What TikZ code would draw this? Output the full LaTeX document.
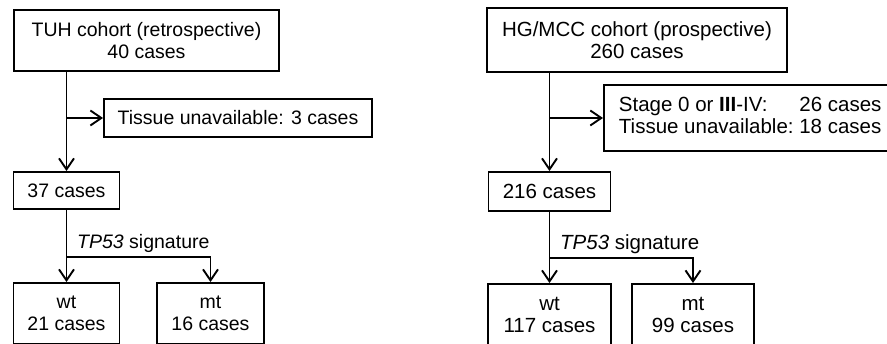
\documentclass[tikz,border=0pt]{standalone}
\usepackage{fontspec}
\setmainfont{Liberation Sans}
\usetikzlibrary{arrows.meta}
\tikzset{
  box/.style={draw, line width=1.9pt, align=center, inner sep=0pt},
  lfont/.style={font=\fontsize{19.5}{22}\selectfont},
  rfont/.style={font=\fontsize{20.5}{22}\selectfont},
  arr/.style={line width=1.9pt, -{Straight Barb[length=11pt,width=15pt,line width=1.9pt]}},
  lbl/.style={inner sep=0pt, anchor=base west}
}
\begin{document}
\begin{tikzpicture}[x=1pt,y=-1pt]
\useasboundingbox (0,0) rectangle (887,344);
\fill[white] (0,0) rectangle (887,344);
\clip (0,0) rectangle (887,344);
% left cohort
\node[box, lfont, minimum width=265pt, minimum height=61pt] (tuh) at (146.5,40.5) {TUH cohort (retrospective)\\40 cases};
\node[box, lfont, minimum width=268pt, minimum height=38pt] (tisL) at (238,118) {Tissue unavailable: 3 cases};
\node[box, lfont, minimum width=106pt, minimum height=37pt] (n37) at (66.5,190.5) {37 cases};
\node[box, lfont, minimum width=106pt, minimum height=61pt] (wtL) at (66.5,313.5) {wt\\21 cases};
\node[box, lfont, minimum width=107pt, minimum height=61pt] (mtL) at (210.5,313.5) {mt\\16 cases};
\coordinate (jL) at (67,257);
\draw[arr] (tuh.south -| n37.north) -- (n37.north);
\draw[arr] (n37.north |- tisL.west) -- (tisL.west);
\draw[arr] (n37.south) -- (wtL.north);
\draw[arr] (jL -| n37.south) -| (mtL.north);
\node[lbl, lfont] (sigL) at (77,249) {\textit{TP53} signature};
% right cohort
\node[box, rfont, minimum width=300pt, minimum height=64pt] (hg) at (637,40) {HG/MCC cohort (prospective)\\260 cases};
\node[box, rfont, anchor=west, inner xsep=15pt, minimum height=66pt] (stg) at (603,118) {\begin{tabular}{@{}l@{\ }l@{}}Stage 0 or \textbf{III}-IV: & 26 cases\\ Tissue unavailable: & 18 cases\end{tabular}};
\node[box, rfont, minimum width=122pt, minimum height=39pt] (n216) at (549.5,191.5) {216 cases};
\node[box, rfont, minimum width=123pt, minimum height=61pt] (wtR) at (549.5,314.5) {wt\\117 cases};
\node[box, rfont, minimum width=122pt, minimum height=61pt] (mtR) at (693,314.5) {mt\\99 cases};
\coordinate (jR) at (550,258);
\draw[arr] (hg.south -| n216.north) -- (n216.north);
\draw[arr] (n216.north |- stg.west) -- (stg.west);
\draw[arr] (n216.south) -- (wtR.north);
\draw[arr] (jR -| n216.south) -| (mtR.north);
\node[lbl, rfont] (sigR) at (560,250) {\textit{TP53} signature};
\end{tikzpicture}
\end{document}
